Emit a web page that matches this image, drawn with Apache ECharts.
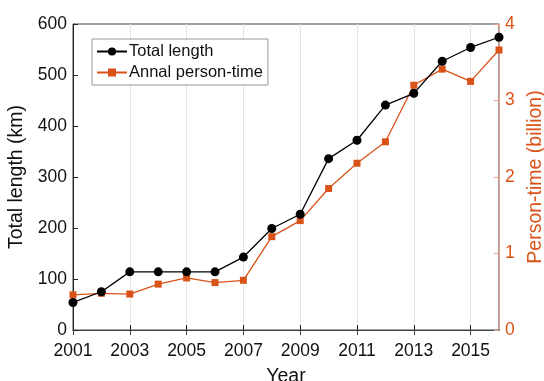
<!DOCTYPE html>
<html>
<head>
<meta charset="utf-8">
<script src="https://cdn.jsdelivr.net/npm/echarts@6/dist/echarts.min.js"></script>
<style>
  html, body { margin: 0; padding: 0; background: #fff; }
  #chart { width: 544px; height: 381px; }
</style>
</head>
<body>
<div id="chart"></div>
<script>
// Years along the horizontal axis
const years = ['2001','2002','2003','2004','2005','2006','2007','2008',
               '2009','2010','2011','2012','2013','2014','2015','2016'];
// Total network length, km (left axis)
const totalLength = [54, 75, 114, 114, 114, 114, 143, 199, 227, 336, 372, 441, 464, 527, 554, 574];
// Annual person-time, billion (right axis)
const personTime = [0.46, 0.48, 0.47, 0.60, 0.68, 0.62, 0.65, 1.22, 1.43, 1.85, 2.18, 2.46, 3.20, 3.41, 3.25, 3.66];

const FONT = "'Liberation Sans', Arial, Helvetica, sans-serif";
const ORANGE = '#D95319';
const TICK_FONT = 17.5;
const NAME_FONT = 19.5;

const chart = echarts.init(document.getElementById('chart'), null, { renderer: 'canvas' });

chart.setOption({
  animation: false,
  backgroundColor: '#fff',
  textStyle: { fontFamily: FONT },
  grid: {
    left: 73, right: 45, top: 24, bottom: 51,
    outerBoundsMode: 'none',
    containLabel: false,
    show: true, borderColor: '#444', borderWidth: 1, backgroundColor: 'transparent'
  },
  legend: {
    left: 92, top: 39,
    orient: 'vertical',
    backgroundColor: '#fff',
    borderColor: '#999', borderWidth: 1,
    padding: [4, 5, 4, 4],
    itemGap: 4,
    itemWidth: 30, itemHeight: 10,
    textStyle: { fontSize: 16.5, color: '#111', fontFamily: FONT, padding: [0, 0, 0, -3] },
    data: ['Total length', 'Annal person-time']
  },
  xAxis: [
    {
      type: 'category',
      data: years,
      boundaryGap: false,
      position: 'bottom',
      name: 'Year',
      nameLocation: 'middle',
      nameGap: 37,
      nameTextStyle: { fontSize: NAME_FONT, color: '#111' },
      axisLine: { show: true, lineStyle: { color: '#222', width: 1 } },
      axisTick: { show: true, inside: true, length: 5, interval: 1, lineStyle: { color: '#222' } },
      axisLabel: { interval: 1, fontSize: TICK_FONT, color: '#111', margin: 12 },
      splitLine: { show: true, interval: 1, lineStyle: { color: '#e4e4e4', width: 1 } }
    },
    {
      // top frame edge with inward ticks, no labels
      type: 'category',
      data: years,
      boundaryGap: false,
      position: 'top',
      axisLine: { show: true, lineStyle: { color: '#444', width: 1 } },
      axisTick: { show: true, inside: true, length: 5, interval: 1, lineStyle: { color: '#444' } },
      axisLabel: { show: false },
      splitLine: { show: false }
    }
  ],
  yAxis: [
    {
      type: 'value',
      min: 0, max: 600, interval: 100,
      name: 'Total length (km)',
      nameLocation: 'middle',
      nameGap: 41,
      nameTextStyle: { fontSize: NAME_FONT, color: '#111' },
      axisLine: { show: true, lineStyle: { color: '#222', width: 1 } },
      axisTick: { show: true, inside: true, length: 5, lineStyle: { color: '#222' } },
      axisLabel: { fontSize: TICK_FONT, color: '#111', margin: 6 },
      splitLine: { show: false }
    },
    {
      type: 'value',
      min: 0, max: 4, interval: 1,
      position: 'right',
      name: 'Person-time (billion)',
      nameLocation: 'middle',
      nameGap: 26,
      nameRotate: 90,
      nameTextStyle: { fontSize: NAME_FONT, color: ORANGE },
      axisLine: { show: true, lineStyle: { color: '#e3a283', width: 1 } },
      axisTick: { show: true, inside: true, length: 5, lineStyle: { color: '#e3a283' } },
      axisLabel: { fontSize: TICK_FONT, color: ORANGE, margin: 6 },
      splitLine: { show: false }
    }
  ],
  series: [
    {
      name: 'Total length',
      type: 'line',
      xAxisIndex: 0,
      yAxisIndex: 0,
      data: totalLength,
      symbol: 'circle',
      symbolSize: 9,
      z: 3,
      lineStyle: { color: '#000', width: 1.3 },
      itemStyle: { color: '#000' }
    },
    {
      name: 'Annal person-time',
      type: 'line',
      xAxisIndex: 0,
      yAxisIndex: 1,
      data: personTime,
      symbol: 'rect',
      symbolSize: 7,
      z: 2,
      lineStyle: { color: ORANGE, width: 1.3 },
      itemStyle: { color: ORANGE }
    }
  ]
});
</script>
</body>
</html>
